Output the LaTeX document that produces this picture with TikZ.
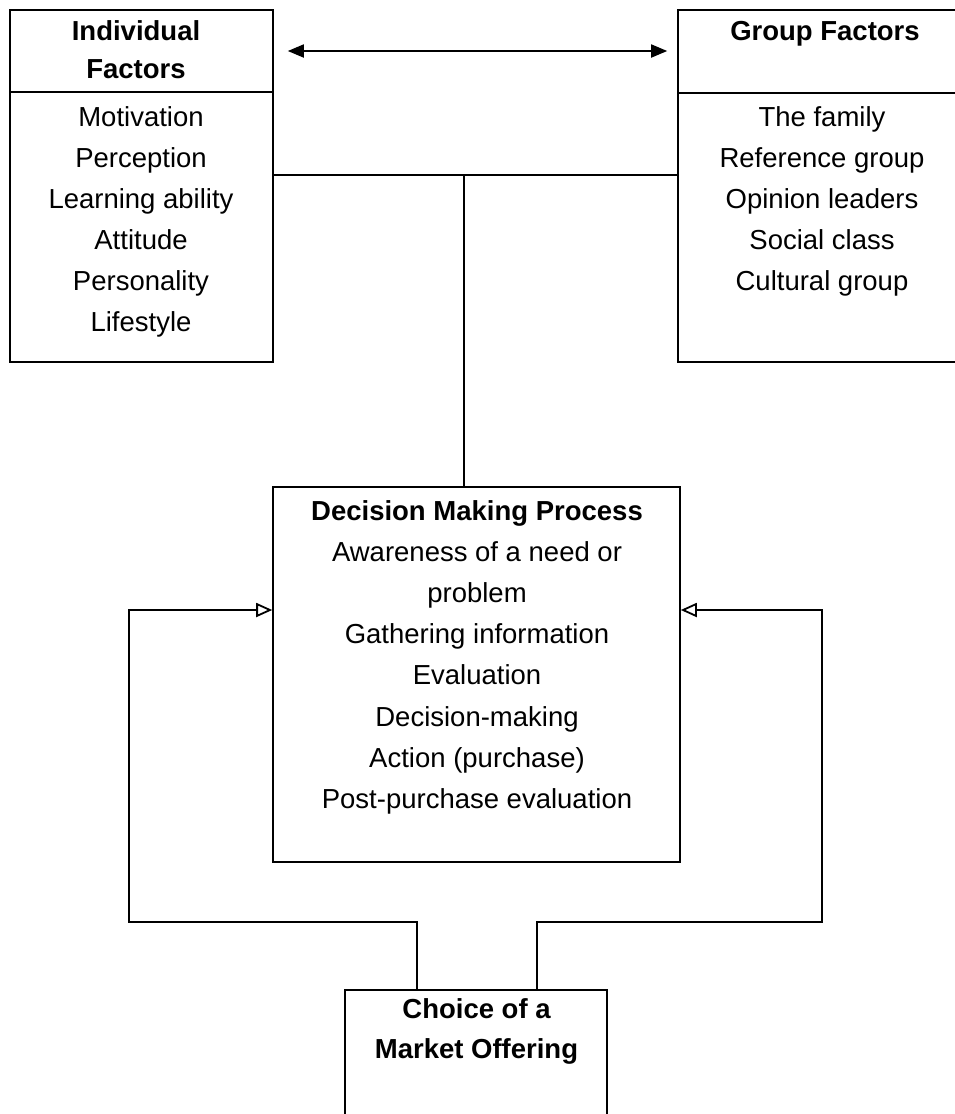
\documentclass[tikz,border=0pt]{standalone}
\usepackage{fontspec}
\setmainfont{Liberation Sans}
\usetikzlibrary{arrows.meta}
\begin{document}
\begin{tikzpicture}[x=1pt,y=-1pt,
  box/.style={draw, line width=1.6pt, rectangle, inner sep=0pt},
  txt/.style={anchor=base, inner sep=0pt, font=\fontsize{27.5}{33}\selectfont},
  hdr/.style={anchor=base, inner sep=0pt, font=\fontsize{27.5}{33}\selectfont\bfseries},
  conn/.style={line width=1.8pt},
  fb/.style={conn, -{Triangle[open,length=16pt,width=14pt,line width=1.8pt]}},
  both/.style={conn, {Triangle[length=16pt,width=13pt]}-{Triangle[length=16pt,width=13pt]}}]
\useasboundingbox (0,0) rectangle (954,1114);

% Individual factors
\node[box, minimum width=263pt, minimum height=82pt] (indhead) at (141.5,51) {};
\node[box, minimum width=263pt, minimum height=270pt] (indlist) at (141.5,227) {};
\node[hdr] (indt1) at (136,40) {Individual};
\node[hdr] (indt2) at (136,78) {Factors};
\foreach \t [count=\i] in {Motivation, Perception, Learning ability, Attitude, Personality, Lifestyle}
  \node[txt] (ind\i) at (141,{126+41*(\i-1)}) {\t};

% Group factors
\node[box, minimum width=288pt, minimum height=83pt] (grphead) at (822,51.5) {};
\node[box, minimum width=288pt, minimum height=269pt] (grplist) at (822,227.5) {};
\node[hdr] (grpt) at (825,40) {Group Factors};
\foreach \t [count=\i] in {The family, Reference group, Opinion leaders, Social class, Cultural group}
  \node[txt] (grp\i) at (822,{126+41*(\i-1)}) {\t};

% Decision making process
\node[box, minimum width=407pt, minimum height=375pt] (dec) at (476.5,674.5) {};
\node[hdr] (dect) at (477,520) {Decision Making Process};
\foreach \t [count=\i] in {Awareness of a need or, problem, Gathering information, Evaluation, Decision-making, Action (purchase), Post-purchase evaluation}
  \node[txt] (dec\i) at (477,{520+41.2*\i}) {\t};

% Choice of a market offering
\node[box, minimum width=262pt, minimum height=130pt] (cho) at (476,1055) {};
\node[hdr] (cho1) at (476.5,1018) {Choice of a};
\node[hdr] (cho2) at (476.5,1058) {Market Offering};

% Connectors
\draw[both] ([xshift=14pt]indhead.east) -- ([xshift=-10pt]grphead.west |- indhead.east);
\coordinate (j) at (464,175);
\draw[conn] (indlist.east |- j) -- (grplist.west |- j);
\draw[conn] (j) -- (j |- dec.north);

\coordinate (lb) at (129,922);
\coordinate (lt) at (129,610);
\coordinate (rb) at (822,922);
\coordinate (rt) at (822,610);
\draw[fb] ([xshift=-59pt]cho.north) |- (lb) -- (lt) -- (lt -| dec.west);
\draw[fb] ([xshift=61pt]cho.north) |- (rb) -- (rt) -- (rt -| dec.east);
\end{tikzpicture}
\end{document}
